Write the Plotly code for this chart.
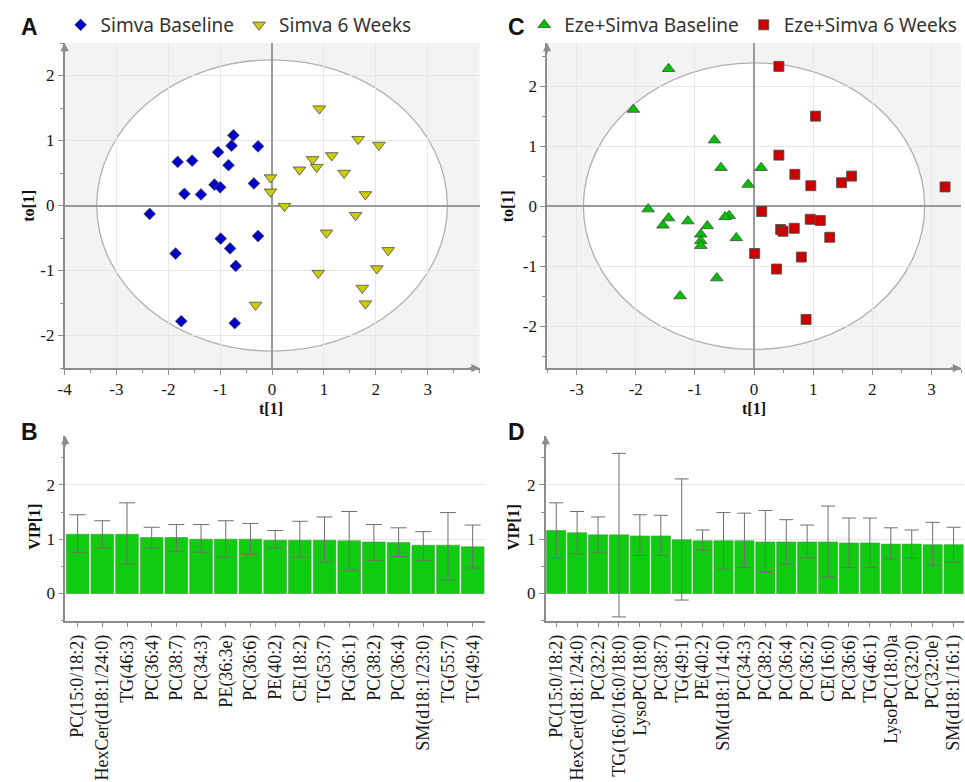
import plotly.graph_objects as go

# ---------------- DATA ----------------
# Panel A: Simva scores
simva_base_t = [-0.745, -0.78, -1.04, -0.27, -1.82, -1.54, -0.84, -1.11, -1.0, -0.35,
                -1.69, -1.37, -2.36, -0.99, -0.27, -0.81, -0.70, -1.86, -1.75, -0.72]
simva_base_to = [1.08, 0.92, 0.82, 0.91, 0.67, 0.69, 0.62, 0.32, 0.28, 0.34,
                 0.18, 0.17, -0.13, -0.51, -0.47, -0.66, -0.93, -0.74, -1.78, -1.81]
simva_6w_t = [0.91, 1.66, 2.06, 1.15, 0.78, 0.86, 0.53, 1.39, -0.03, -0.03,
              0.24, 1.80, 1.61, 1.05, 2.24, 2.02, 0.89, 1.74, 1.80, -0.32]
simva_6w_to = [1.49, 1.02, 0.93, 0.77, 0.71, 0.59, 0.55, 0.50, 0.43, 0.21,
               -0.01, 0.17, -0.15, -0.42, -0.69, -0.97, -1.04, -1.27, -1.51, -1.53]

# Panel C: Eze+Simva scores
eze_base_t = [-1.445, -2.04, -0.67, -0.56, 0.12, -0.10, -1.79, -1.445, -1.54, -1.12,
              -0.79, -0.42, -0.49, -0.90, -0.90, -0.90, -0.30, -0.63, -1.25]
eze_base_to = [2.29, 1.61, 1.10, 0.64, 0.64, 0.36, -0.05, -0.20, -0.32, -0.25,
               -0.33, -0.16, -0.18, -0.47, -0.58, -0.66, -0.53, -1.20, -1.50]
eze_6w_t = [0.42, 1.04, 0.42, 0.69, 0.96, 1.48, 1.65, 3.23, 0.13, 0.95,
            1.12, 0.45, 0.49, 0.68, 1.28, 0.01, 0.80, 0.38, 0.88]
eze_6w_to = [2.33, 1.50, 0.85, 0.53, 0.34, 0.39, 0.50, 0.32, -0.09, -0.22,
             -0.24, -0.39, -0.42, -0.37, -0.52, -0.79, -0.85, -1.05, -1.89]

# Hotelling ellipse semi-axes
ellA_rx, ellA_ry = 3.38, 2.24
ellC_rx, ellC_ry = 2.885, 2.39

# Panel B: VIP
B_labels = ["PC(15:0/18:2)", "HexCer(d18:1/24:0)", "TG(46:3)", "PC(36:4)", "PC(38:7)",
            "PC(34:3)", "PE(36:3e)", "PC(36:6)", "PE(40:2)", "CE(18:2)", "TG(53:7)",
            "PG(36:1)", "PC(38:2)", "PC(36:4)", "SM(d18:1/23:0)", "TG(55:7)", "TG(49:4)"]
B_vip = [1.09, 1.09, 1.09, 1.03, 1.03, 1.00, 1.00, 1.00, 0.98, 0.98, 0.98,
         0.97, 0.95, 0.94, 0.89, 0.89, 0.86]
B_hi = [1.45, 1.34, 1.67, 1.22, 1.27, 1.27, 1.34, 1.29, 1.16, 1.33, 1.41,
        1.51, 1.27, 1.21, 1.14, 1.49, 1.26]
B_lo = [0.76, 0.84, 0.54, 0.84, 0.78, 0.76, 0.67, 0.72, 0.84, 0.67, 0.58,
        0.42, 0.61, 0.68, 0.61, 0.25, 0.47]

# Panel D: VIP
D_labels = ["PC(15:0/18:2)", "HexCer(d18:1/24:0)", "PC(32:2)", "TG(16:0/16:0/18:0)",
            "LysoPC(18:0)", "PC(38:7)", "TG(49:1)", "PE(40:2)", "SM(d18:1/14:0)",
            "PC(34:3)", "PC(38:2)", "PC(36:4)", "PC(36:2)", "CE(16:0)", "PC(36:6)",
            "TG(46:1)", "LysoPC(18:0)a", "PC(32:0)", "PC(32:0e)", "SM(d18:1/16:1)"]
D_vip = [1.16, 1.12, 1.08, 1.08, 1.06, 1.06, 0.99, 0.97, 0.97, 0.97,
         0.95, 0.95, 0.95, 0.95, 0.93, 0.93, 0.91, 0.91, 0.90, 0.90]
D_hi = [1.67, 1.51, 1.41, 2.58, 1.45, 1.44, 2.11, 1.17, 1.49, 1.48,
        1.53, 1.36, 1.26, 1.61, 1.39, 1.39, 1.21, 1.17, 1.31, 1.22]
D_lo = [0.66, 0.73, 0.76, -0.43, 0.70, 0.70, -0.12, 0.80, 0.45, 0.48,
        0.39, 0.54, 0.66, 0.31, 0.48, 0.48, 0.64, 0.66, 0.52, 0.58]

A_xticks = [-4, -3, -2, -1, 0, 1, 2, 3]
A_yticks = [-2, -1, 0, 1, 2]
C_xticks = [-3, -2, -1, 0, 1, 2, 3]
C_yticks = [-2, -1, 0, 1, 2]
VIP_ticks = [0, 1, 2]

# ---------------- STYLE ----------------
W, H = 965, 782
SERIF = "Liberation Serif"
SANS = "Noto Sans"
AXC = "#8c8c8c"
GRIDC = "#e6e6e6"
BG = "#f3f3f3"


def px_x(p):
    return p / W


def px_y(p):
    return 1 - p / H


def lab(v):
    return [str(t) for t in v]


fig = go.Figure()

mline = dict(color="#4a4a4a", width=0.8)
fig.add_trace(go.Scatter(x=simva_base_t, y=simva_base_to, mode="markers", name="Simva Baseline",
                         marker=dict(symbol="diamond", size=9, color="#0000c8", line=mline),
                         xaxis="x", yaxis="y", legend="legend"))
fig.add_trace(go.Scatter(x=simva_6w_t, y=simva_6w_to, mode="markers", name="Simva 6 Weeks",
                         marker=dict(symbol="triangle-down", size=11, color="#cccc00", line=mline),
                         xaxis="x", yaxis="y", legend="legend"))
fig.add_trace(go.Scatter(x=eze_base_t, y=eze_base_to, mode="markers", name="Eze+Simva Baseline",
                         marker=dict(symbol="triangle-up", size=11, color="#00c000", line=mline),
                         xaxis="x2", yaxis="y2", legend="legend2"))
fig.add_trace(go.Scatter(x=eze_6w_t, y=eze_6w_to, mode="markers", name="Eze+Simva 6 Weeks",
                         marker=dict(symbol="square", size=10, color="#cc0000", line=mline),
                         xaxis="x2", yaxis="y2", legend="legend2"))

barc = "#10cc10"
barline = dict(color="#3f9a3f", width=0.6)
fig.add_trace(go.Bar(x=list(range(len(B_labels))), y=B_vip, marker=dict(color=barc, line=barline),
                     error_y=dict(type="data", symmetric=False,
                                  array=[h - v for h, v in zip(B_hi, B_vip)],
                                  arrayminus=[v - l for v, l in zip(B_vip, B_lo)],
                                  color="#6e6e6e", thickness=1, width=8),
                     xaxis="x3", yaxis="y3", showlegend=False))
fig.add_trace(go.Bar(x=list(range(len(D_labels))), y=D_vip, marker=dict(color=barc, line=barline),
                     error_y=dict(type="data", symmetric=False,
                                  array=[h - v for h, v in zip(D_hi, D_vip)],
                                  arrayminus=[v - l for v, l in zip(D_vip, D_lo)],
                                  color="#6e6e6e", thickness=1, width=7),
                     xaxis="x4", yaxis="y4", showlegend=False))

tickfont = dict(family=SERIF, size=17, color="#151515")
catfont = dict(family=SERIF, size=18, color="#151515")
common = dict(showline=True, linecolor=AXC, linewidth=1.5, ticks="outside", ticklen=5,
              tickcolor=AXC, mirror=False)

topA, botA = 43, 368
topB, botB = 436, 620.7

fig.update_layout(
    width=W, height=H, margin=dict(l=0, r=0, t=0, b=0),
    paper_bgcolor="white", plot_bgcolor=BG, bargap=0.08,
    xaxis=dict(domain=[px_x(58), px_x(476)], range=[-4, 4], anchor="y",
               tickvals=A_xticks, ticktext=lab(A_xticks), showgrid=True, gridcolor=GRIDC,
               zeroline=True, zerolinecolor="#9a9a9a", zerolinewidth=1.5, tickfont=tickfont,
               minor=dict(dtick=0.5, ticks="outside", ticklen=3, tickcolor=AXC, showgrid=False),
               **common),
    yaxis=dict(domain=[px_y(botA), px_y(topA)], range=[-2.5, 2.5], anchor="x",
               tickvals=A_yticks, ticktext=lab(A_yticks), showgrid=True, gridcolor=GRIDC,
               zeroline=True, zerolinecolor="#9a9a9a", zerolinewidth=1.5, tickfont=tickfont,
               minor=dict(dtick=0.5, ticks="outside", ticklen=3, tickcolor=AXC, showgrid=False),
               **common),
    xaxis2=dict(domain=[px_x(544), px_x(961)], range=[-3.5, 3.5], anchor="y2",
                tickvals=C_xticks, ticktext=lab(C_xticks), showgrid=True, gridcolor=GRIDC,
                zeroline=True, zerolinecolor="#9a9a9a", zerolinewidth=1.5, tickfont=tickfont,
                minor=dict(dtick=0.5, ticks="outside", ticklen=3, tickcolor=AXC, showgrid=False),
                **common),
    yaxis2=dict(domain=[px_y(botA), px_y(topA)], range=[-2.7, 2.72], anchor="x2",
                tickvals=C_yticks, ticktext=lab(C_yticks), showgrid=True, gridcolor=GRIDC,
                zeroline=True, zerolinecolor="#9a9a9a", zerolinewidth=1.5, tickfont=tickfont,
                minor=dict(dtick=0.5, ticks="outside", ticklen=3, tickcolor=AXC, showgrid=False),
                **common),
    xaxis3=dict(domain=[px_x(58.7), px_x(481.5)], range=[-0.5, len(B_labels) - 0.5], anchor="y3",
                tickvals=list(range(len(B_labels))), ticktext=B_labels, tickangle=-90,
                showgrid=False, zeroline=False, tickfont=catfont, ticklabeloverflow="allow",
                **common),
    yaxis3=dict(domain=[px_y(botB), px_y(topB)], range=[-0.5, 2.9], anchor="x3",
                tickvals=VIP_ticks, ticktext=lab(VIP_ticks), showgrid=True, gridcolor=GRIDC,
                zeroline=False, tickfont=tickfont,
                minor=dict(dtick=0.5, ticks="outside", ticklen=3, tickcolor=AXC, showgrid=False),
                **common),
    xaxis4=dict(domain=[px_x(542.7), px_x(964)], range=[-0.5, len(D_labels) - 0.5], anchor="y4",
                tickvals=list(range(len(D_labels))), ticktext=D_labels, tickangle=-90,
                showgrid=False, zeroline=False, tickfont=catfont, ticklabeloverflow="allow",
                **common),
    yaxis4=dict(domain=[px_y(botB), px_y(topB)], range=[-0.5, 2.9], anchor="x4",
                tickvals=VIP_ticks, ticktext=lab(VIP_ticks), showgrid=True, gridcolor=GRIDC,
                zeroline=False, tickfont=tickfont,
                minor=dict(dtick=0.5, ticks="outside", ticklen=3, tickcolor=AXC, showgrid=False),
                **common),
    legend=dict(orientation="h", x=px_x(54), xanchor="left", y=px_y(25), yanchor="middle",
                bgcolor="rgba(0,0,0,0)", font=dict(family=SANS, size=19, color="#333")),
    legend2=dict(orientation="h", x=px_x(521), xanchor="left", y=px_y(25), yanchor="middle",
                 bgcolor="rgba(0,0,0,0)", font=dict(family=SANS, size=19, color="#333")),
)

# B/D plots: white background
fig.update_layout(shapes=[
    dict(type="rect", xref="x3 domain", yref="y3 domain", x0=0, x1=1, y0=0, y1=1,
         fillcolor="white", line=dict(width=0), layer="below"),
    dict(type="rect", xref="x4 domain", yref="y4 domain", x0=0, x1=1, y0=0, y1=1,
         fillcolor="white", line=dict(width=0), layer="below"),
    dict(type="circle", xref="x", yref="y", x0=-ellA_rx, x1=ellA_rx, y0=-ellA_ry, y1=ellA_ry,
         fillcolor="white", line=dict(color="#b0b0b0", width=1.3), layer="below"),
    dict(type="circle", xref="x2", yref="y2", x0=-ellC_rx, x1=ellC_rx, y0=-ellC_ry, y1=ellC_ry,
         fillcolor="white", line=dict(color="#b0b0b0", width=1.3), layer="below"),
])

anns = []
titlefont = dict(family=SERIF, size=16, color="#111")
for txt, x, y, ang in [("t[1]", 266, 409, 0), ("t[1]", 752, 409, 0),
                       ("to[1]", 22, 206, -90), ("to[1]", 505, 206, -90),
                       ("VIP[1]", 27, 527, -90), ("VIP[1]", 510, 527, -90)]:
    anns.append(dict(text="<b>%s</b>" % txt, x=px_x(x), y=px_y(y), xref="paper", yref="paper",
                     showarrow=False, textangle=ang, font=titlefont,
                     xanchor="center", yanchor="middle"))
for txt, x, y in [("A", 23, 27), ("C", 513, 27), ("B", 23, 432), ("D", 513, 432)]:
    anns.append(dict(text="<b>%s</b>" % txt, x=px_x(x), y=px_y(y), xref="paper", yref="paper",
                     showarrow=False, font=dict(family="Liberation Sans", size=23, color="#111"),
                     xanchor="center", yanchor="middle"))
# axis arrows
arrow = dict(text="", showarrow=True, arrowhead=2, arrowsize=1.1, arrowwidth=1.5,
             arrowcolor=AXC)
anns += [
    dict(x=-4, y=2.5, xref="x", yref="y", ax=0, ay=12, **arrow),
    dict(x=4, y=-2.5, xref="x", yref="y", ax=-12, ay=0, **arrow),
    dict(x=-3.5, y=2.72, xref="x2", yref="y2", ax=0, ay=12, **arrow),
    dict(x=3.5, y=-2.7, xref="x2", yref="y2", ax=-12, ay=0, **arrow),
    dict(x=-0.5, y=2.9, xref="x3", yref="y3", ax=0, ay=12, **arrow),
    dict(x=-0.5, y=2.9, xref="x4", yref="y4", ax=0, ay=12, **arrow),
]
fig.update_layout(annotations=anns)

fig.write_html("out.html")
